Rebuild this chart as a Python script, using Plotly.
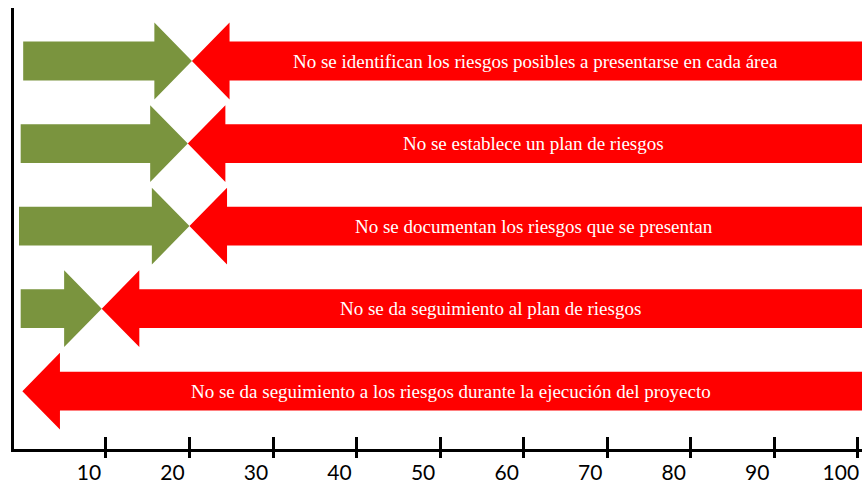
import plotly.graph_objects as go

# rows from top to bottom
labels = [
    "No se identifican los riesgos posibles a presentarse en cada área",
    "No se establece un plan de riesgos",
    "No se documentan los riesgos que se presentan",
    "No se da seguimiento al plan de riesgos",
    "No se da seguimiento a los riesgos durante la ejecución del proyecto",
]
# point where the green and red arrows meet
meet = [20.3, 19.8, 20.0, 9.5, 0.0]
green_start = [0.1, -0.2, -0.4, -0.2, None]
red_end = 100.5
xticks = [10, 20, 30, 40, 50, 60, 70, 80, 90, 100]

GREEN = "#7A943E"
RED = "#FF0000"
head_len = 4.5      # x units
shaft_half = 0.235  # y units
head_half = 0.465

fig = go.Figure()

for i, (lab, m, g0) in enumerate(zip(labels, meet, green_start)):
    y = i
    # green arrow pointing right, from g0 to m
    if g0 is not None:
        hb = m - head_len
        xs = [g0, hb, hb, m, hb, hb, g0, g0]
        ys = [y - shaft_half, y - shaft_half, y - head_half, y,
              y + head_half, y + shaft_half, y + shaft_half, y - shaft_half]
        fig.add_trace(go.Scatter(x=xs, y=ys, fill="toself", fillcolor=GREEN,
                                 line=dict(width=0), mode="lines",
                                 hoverinfo="skip", showlegend=False))
    # red arrow pointing left, from red_end to m
    hb = m + head_len
    xs = [red_end, hb, hb, m, hb, hb, red_end, red_end]
    ys = [y - shaft_half, y - shaft_half, y - head_half, y,
          y + head_half, y + shaft_half, y + shaft_half, y - shaft_half]
    fig.add_trace(go.Scatter(x=xs, y=ys, fill="toself", fillcolor=RED,
                             line=dict(width=0), mode="lines",
                             hoverinfo="skip", showlegend=False))
    fig.add_annotation(x=(m + red_end) / 2 + 1, y=y, text=lab, showarrow=False,
                       font=dict(family="Liberation Serif", size=19, color="white"))

# second x axis only for the part of the tick marks below the axis line
fig.add_trace(go.Scatter(x=[0], y=[0], xaxis="x2", mode="markers",
                         marker=dict(opacity=0), hoverinfo="skip", showlegend=False))

fig.update_layout(
    width=862, height=485,
    margin=dict(l=14, r=0, t=8, b=36),
    plot_bgcolor="white", paper_bgcolor="white",
    xaxis=dict(range=[-1.0, 100.5], tickvals=xticks, ticks="inside", ticklen=12,
               tickwidth=2.5, tickcolor="black", showline=True, linewidth=3,
               linecolor="black", showgrid=False, zeroline=False,
               ticklabelshift=-17, ticklabelstandoff=3, automargin=False,
               tickfont=dict(family="Lato", size=21, color="black")),
    xaxis2=dict(range=[-1.0, 100.5], overlaying="x", anchor="y", side="bottom",
                tickvals=xticks, ticks="outside", ticklen=8, tickwidth=2.5,
                tickcolor="black", showticklabels=False, showgrid=False,
                zeroline=False, showline=False, automargin=False),
    yaxis=dict(range=[4.70, -0.642], showline=True, linewidth=3, linecolor="black",
               showticklabels=False, ticks="", showgrid=False, zeroline=False,
               automargin=False),
)

# drop the browser's default page margin so the figure fills the window
fig.write_html("out.html", config={"displayModeBar": False},
               post_script="document.body.style.margin='0';"
                           "document.body.style.overflow='hidden';")
